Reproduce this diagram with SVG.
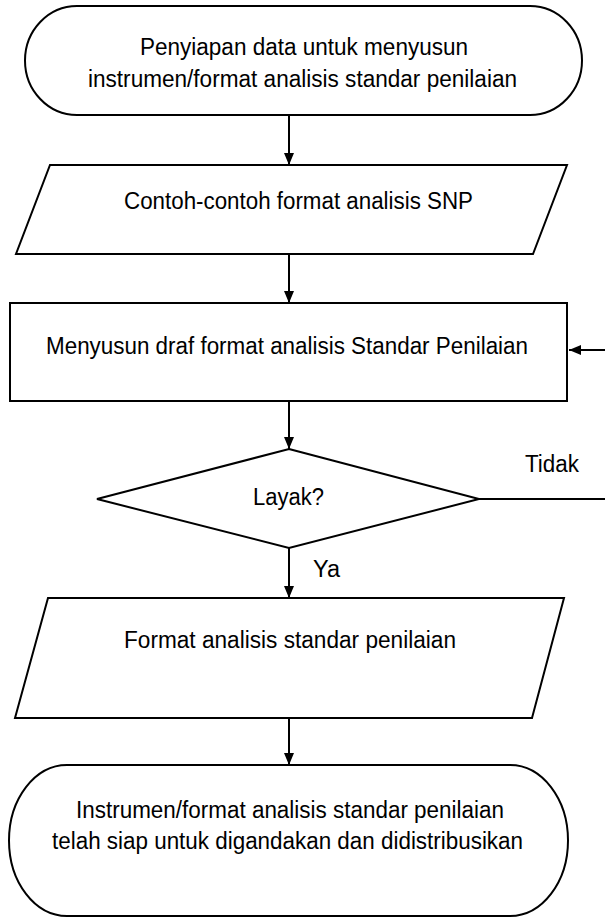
<svg xmlns="http://www.w3.org/2000/svg" width="605" height="922" viewBox="0 0 605 922">
<style>
.s{fill:#fff;stroke:#000;stroke-width:2}
.c{fill:none;stroke:#000;stroke-width:2}
text{font-family:"Liberation Sans",Arial,sans-serif;font-size:23px;fill:#000}
.m{text-anchor:middle}
</style>
<defs>
<marker id="a" viewBox="0 0 12 10" refX="12" refY="5" markerWidth="12" markerHeight="10" markerUnits="userSpaceOnUse" orient="auto">
<path d="M0,0 L12,5 L0,10 Z" fill="#000"/>
</marker>
</defs>
<rect width="605" height="922" fill="#fff"/>
<g id="connectors">
<line class="c" x1="289" y1="115" x2="289" y2="165" marker-end="url(#a)"/>
<line class="c" x1="289" y1="254" x2="289" y2="303" marker-end="url(#a)"/>
<line class="c" x1="289" y1="401" x2="289" y2="449" marker-end="url(#a)"/>
<line class="c" x1="289" y1="548" x2="289" y2="598" marker-end="url(#a)"/>
<line class="c" x1="289" y1="718" x2="289" y2="765" marker-end="url(#a)"/>
<polyline class="c" points="479,499 605,499"/>
<line class="c" x1="605" y1="350" x2="569" y2="350" marker-end="url(#a)"/>
<text x="525" y="472" textLength="54" lengthAdjust="spacingAndGlyphs">Tidak</text>
<text x="313" y="577" textLength="27" lengthAdjust="spacingAndGlyphs">Ya</text>
</g>
<g id="start">
<rect class="s" x="25" y="6" width="557" height="109" rx="52" ry="54.5"/>
<text x="140" y="55" textLength="328" lengthAdjust="spacingAndGlyphs">Penyiapan data untuk menyusun</text>
<text x="88" y="87" textLength="429" lengthAdjust="spacingAndGlyphs">instrumen/format analisis standar penilaian</text>
</g>
<g id="input1">
<polygon class="s" points="50,165 567,165 533,254 16,254"/>
<text x="124" y="209" textLength="349" lengthAdjust="spacingAndGlyphs">Contoh-contoh format analisis SNP</text>
</g>
<g id="process">
<rect class="s" x="10" y="303" width="557" height="98"/>
<text x="46" y="354" textLength="482" lengthAdjust="spacingAndGlyphs">Menyusun draf format analisis Standar Penilaian</text>
</g>
<g id="decision">
<polygon class="s" points="289,449 479,499 289,548 97,499"/>
<text x="253" y="505" textLength="71" lengthAdjust="spacingAndGlyphs">Layak?</text>
</g>
<g id="input2">
<polygon class="s" points="48,598 564,598 532,718 15,718"/>
<text x="124" y="648" textLength="332" lengthAdjust="spacingAndGlyphs">Format analisis standar penilaian</text>
</g>
<g id="end">
<rect class="s" x="9" y="765" width="559" height="151" rx="58" ry="75.5"/>
<text x="76" y="818" textLength="428" lengthAdjust="spacingAndGlyphs">Instrumen/format analisis standar penilaian</text>
<text x="52" y="849" textLength="471" lengthAdjust="spacingAndGlyphs">telah siap untuk digandakan dan didistribusikan</text>
</g>
</svg>
